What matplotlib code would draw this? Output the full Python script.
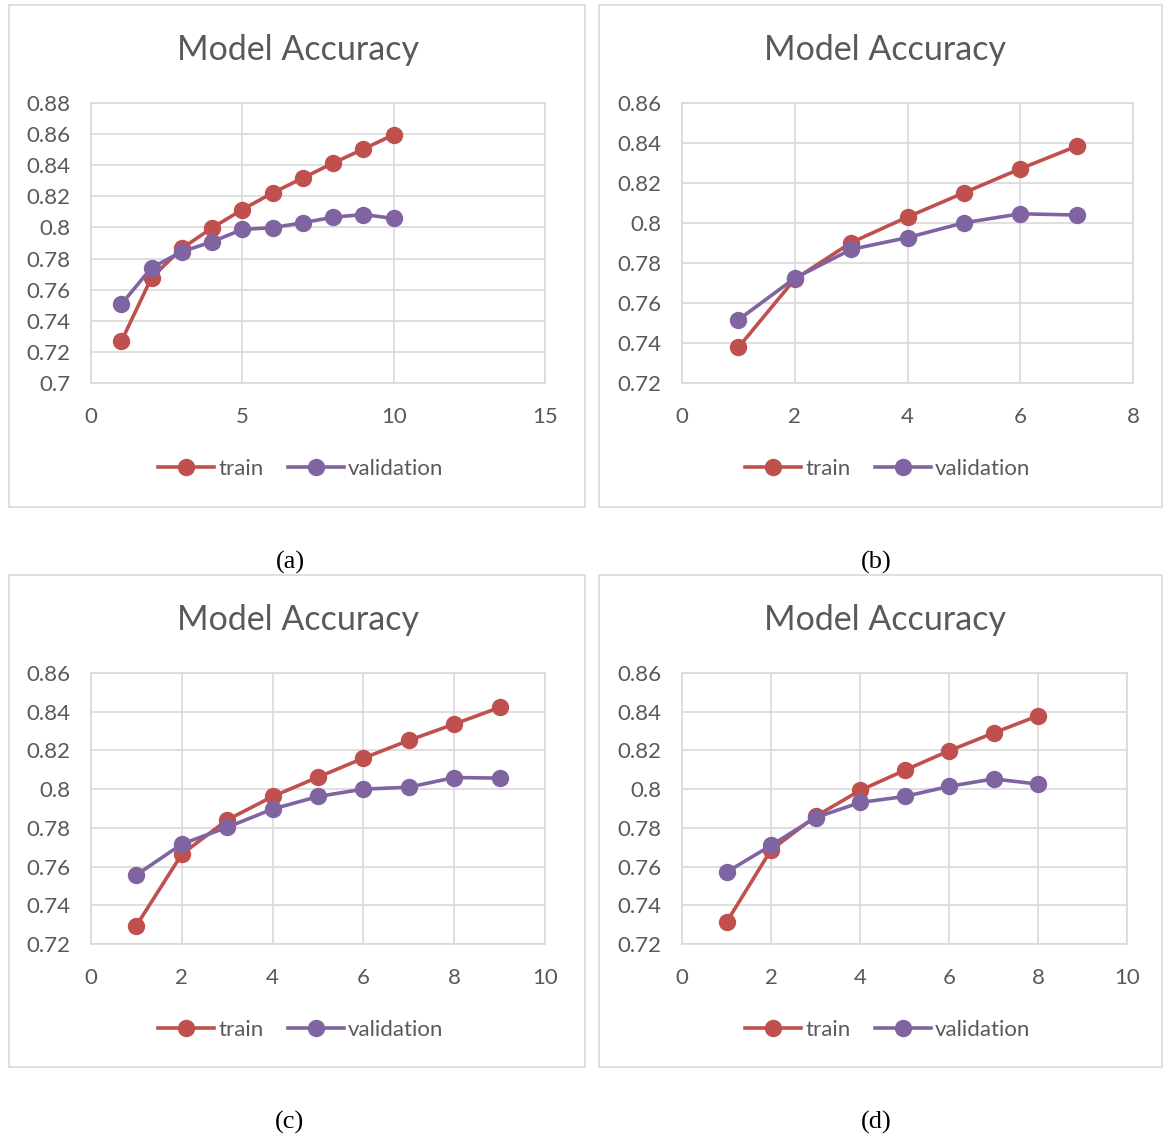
import matplotlib.pyplot as plt
from matplotlib.patches import Rectangle
from matplotlib.ticker import FuncFormatter, MultipleLocator

# values
epochs_a = [1, 2, 3, 4, 5, 6, 7, 8, 9, 10]
train_a = [0.7267, 0.7677, 0.7865, 0.7997, 0.8115, 0.8222, 0.8318, 0.8414, 0.8504, 0.8596]
val_a = [0.7506, 0.7741, 0.7844, 0.7908, 0.7987, 0.7999, 0.8030, 0.8066, 0.8083, 0.8058]

epochs_b = [1, 2, 3, 4, 5, 6, 7]
train_b = [0.7378, 0.7719, 0.7902, 0.8030, 0.8151, 0.8271, 0.8384]
val_b = [0.7516, 0.7724, 0.7868, 0.7927, 0.8001, 0.8046, 0.8040]

epochs_c = [1, 2, 3, 4, 5, 6, 7, 8, 9]
train_c = [0.7295, 0.7664, 0.7841, 0.7962, 0.8062, 0.8160, 0.8252, 0.8336, 0.8422]
val_c = [0.7557, 0.7716, 0.7803, 0.7897, 0.7962, 0.8000, 0.8010, 0.8060, 0.8057]

epochs_d = [1, 2, 3, 4, 5, 6, 7, 8]
train_d = [0.7312, 0.7686, 0.7859, 0.7993, 0.8097, 0.8198, 0.8290, 0.8379]
val_d = [0.7571, 0.7709, 0.7853, 0.7931, 0.7962, 0.8014, 0.8053, 0.8026]

captions = ['(a)', '(b)', '(c)', '(d)']

RED = '#C0504D'
PURPLE = '#8064A2'
TXT = '#595959'
GRID = '#D9D9D9'

W, H = 1163, 1137
plt.rcParams['font.family'] = ['Lato', 'DejaVu Sans']

fig = plt.figure(figsize=(W / 100, H / 100), dpi=100)


def fx(px):
    return px / W


def fy(py):
    return 1 - py / H


def excel_fmt(v, pos):
    s = f'{v:.2f}'.rstrip('0').rstrip('.')
    return s


# panel layout in pixels: box (x0, y0, x1, y1), plot area (x0, y0, x1, y1)
panels = [
    dict(box=(9, 5, 585, 507), area=(91, 103, 545, 383), x=epochs_a, tr=train_a, va=val_a,
         xlim=(0, 15), xstep=5, ylim=(0.70, 0.88), title=(298, 50), leg=(301, 469), cap=(290, 562)),
    dict(box=(599, 5, 1162, 507), area=(682, 103, 1133, 383), x=epochs_b, tr=train_b, va=val_b,
         xlim=(0, 8), xstep=2, ylim=(0.72, 0.86), title=(885, 50), leg=(888, 469), cap=(876, 562)),
    dict(box=(9, 575, 585, 1067), area=(91, 673, 545, 944), x=epochs_c, tr=train_c, va=val_c,
         xlim=(0, 10), xstep=2, ylim=(0.72, 0.86), title=(298, 620), leg=(301, 1030), cap=(290, 1122)),
    dict(box=(599, 575, 1162, 1067), area=(682, 673, 1127, 944), x=epochs_d, tr=train_d, va=val_d,
         xlim=(0, 10), xstep=2, ylim=(0.72, 0.86), title=(885, 620), leg=(888, 1030), cap=(876, 1122)),
]

for p, cap in zip(panels, captions):
    bx0, by0, bx1, by1 = p['box']
    fig.patches.append(Rectangle((fx(bx0), fy(by1)), fx(bx1 - bx0), (by1 - by0) / H,
                                 transform=fig.transFigure, fill=False,
                                 edgecolor=GRID, linewidth=1.2))
    ax0, ay0, ax1, ay1 = p['area']
    ax = fig.add_axes([fx(ax0), fy(ay1), fx(ax1 - ax0), (ay1 - ay0) / H])
    ax.plot(p['x'], p['tr'], '-o', color=RED, lw=2.6, ms=11.5, label='train', zorder=3)
    ax.plot(p['x'], p['va'], '-o', color=PURPLE, lw=2.6, ms=11.5, label='validation', zorder=4)
    ax.set_xlim(*p['xlim'])
    ax.set_ylim(*p['ylim'])
    ax.xaxis.set_major_locator(MultipleLocator(p['xstep']))
    ax.yaxis.set_major_locator(MultipleLocator(0.02))
    ax.yaxis.set_major_formatter(FuncFormatter(excel_fmt))
    ax.grid(True, color=GRID, lw=1.2)
    ax.set_axisbelow(True)
    for s in ax.spines.values():
        s.set_color(GRID)
        s.set_linewidth(1.2)
    ax.tick_params(length=0, labelsize=16, labelcolor=TXT)
    ax.tick_params(axis='x', pad=17)
    ax.tick_params(axis='y', pad=15)
    for line in ax.lines:
        line.set_clip_on(False)

    fig.text(fx(p['title'][0]), fy(p['title'][1]), 'Model Accuracy', ha='center', va='center',
             fontsize=24.5, color=TXT)
    fig.legend(handles=ax.lines, labels=['train', 'validation'], loc='center',
               bbox_to_anchor=(fx(p['leg'][0]), fy(p['leg'][1])), ncol=2, frameon=False,
               fontsize=16, labelcolor=TXT, handlelength=2.5, handletextpad=0.2,
               columnspacing=1.1)
    fig.text(fx(p['cap'][0]), fy(p['cap'][1]), cap, ha='center', va='center',
             fontsize=19, family='Liberation Serif', color='black')

fig.savefig('out.png', dpi=100)
